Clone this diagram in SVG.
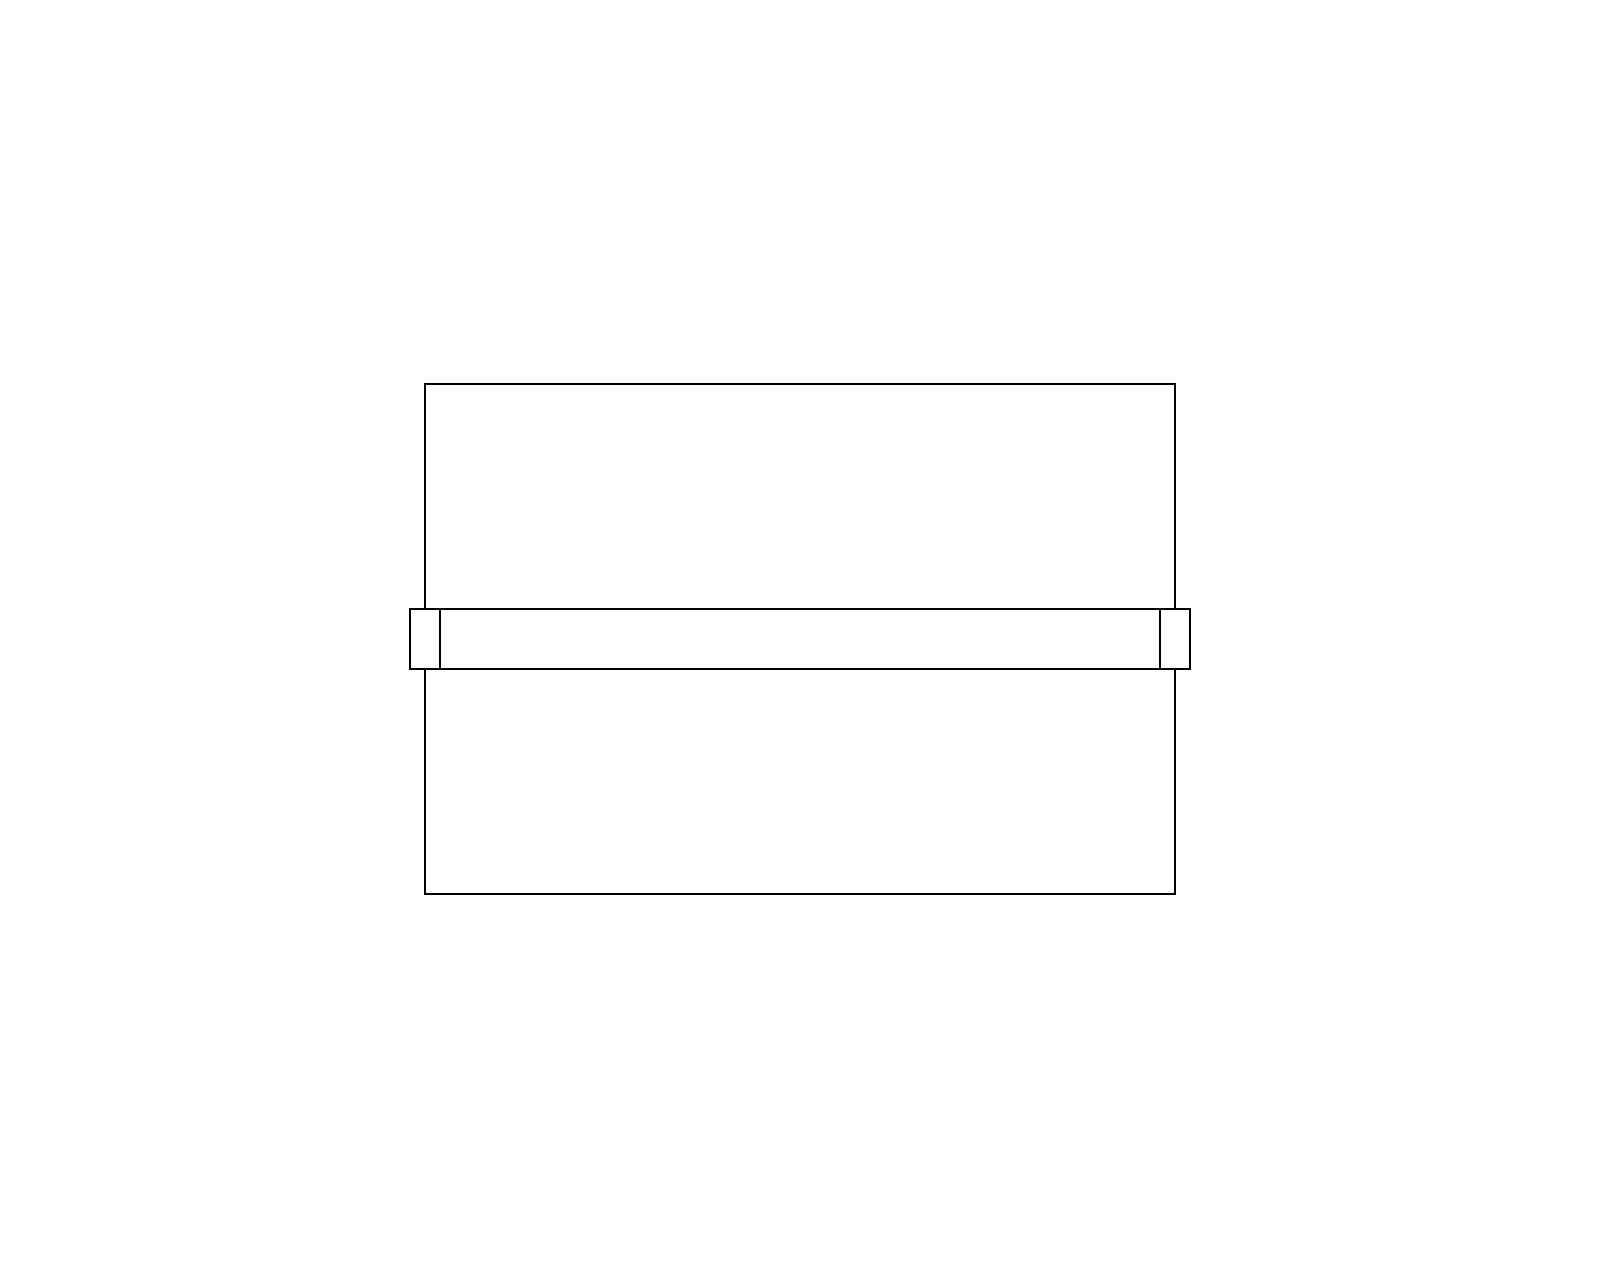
<svg xmlns="http://www.w3.org/2000/svg" width="1600" height="1280" viewBox="0 0 1600 1280">
<style>
.s{fill:#fff;stroke:#000;stroke-width:2}
</style>
<rect width="1600" height="1280" fill="#fff"/>
<g id="frame"><rect class="s" x="425" y="384" width="750" height="510"/></g>
<g id="band"><rect class="s" x="440" y="609" width="720" height="60"/></g>
<g id="left-block"><rect class="s" x="410" y="609" width="30" height="60"/></g>
<g id="right-block"><rect class="s" x="1160" y="609" width="30" height="60"/></g>
<g id="connectors"></g>
</svg>
